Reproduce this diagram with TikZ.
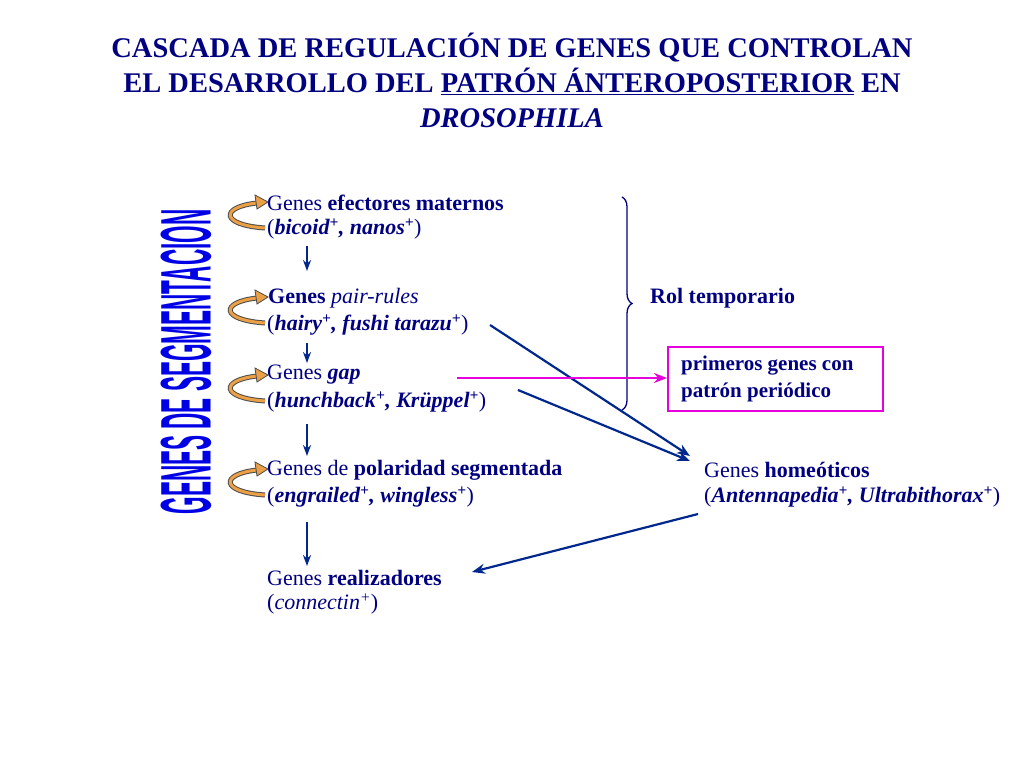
\documentclass[tikz,border=0pt]{standalone}
\usepackage{fontspec}
\setmainfont{Liberation Serif}
\newfontfamily\vfont{Liberation Sans}
\usetikzlibrary{decorations.pathreplacing,arrows.meta}
\definecolor{nb}{RGB}{0,0,128}
\definecolor{ar}{RGB}{0,40,140}
\definecolor{og}{RGB}{235,160,70}
\definecolor{mg}{RGB}{230,0,220}
\begin{document}
\begin{tikzpicture}[x=1pt,y=-1pt,
  tx/.style={anchor=west,text=nb,font=\fontsize{22}{26}\selectfont,inner sep=0pt},
  va/.style={draw=ar,line width=2pt,-{Stealth[length=11pt,width=8pt]}},
  da/.style={draw=ar,line width=2.2pt,-{Stealth[length=13pt,width=10pt]}}]
\useasboundingbox (0,0) rectangle (1024,768);
\node[text=nb,align=center,font=\fontsize{28.5}{35}\selectfont\bfseries] (title) at (512,80)
 {CASCADA DE REGULACIÓN DE GENES QUE CONTROLAN\\EL DESARROLLO DEL \underline{PATRÓN ÁNTEROPOSTERIOR} EN\\\textit{DROSOPHILA}};
\node[rotate=90,text=blue!80!nb,inner sep=0pt] (seg) at (186,362)
 {\resizebox{305pt}{50pt}{\vfont\bfseries GENES DE SEGMENTACION}};
% gene texts
\node[tx] (a1) at (267,203) {Genes \textbf{efectores maternos}};
\node[tx] (a2) at (267,229) {(\textbf{\textit{bicoid\textsuperscript{+}, nanos\textsuperscript{+}}})};
\node[tx] (b1) at (268,298) {\textbf{Genes} \textit{pair-rules}};
\node[tx] (b2) at (267,325) {(\textbf{\textit{hairy\textsuperscript{+}, fushi tarazu\textsuperscript{+}}})};
\node[tx] (c1) at (267,375) {Genes \textbf{\textit{gap}}};
\node[tx] (c2) at (267,402) {(\textbf{\textit{hunchback\textsuperscript{+}, Krüppel\textsuperscript{+}}})};
\node[tx] (d1) at (267,470) {Genes de \textbf{polaridad segmentada}};
\node[tx] (d2) at (267,497) {(\textbf{\textit{engrailed\textsuperscript{+}, wingless\textsuperscript{+}}})};
\node[tx] (e1) at (267,578) {Genes \textbf{realizadores}};
\node[tx] (e2) at (267,604) {(\textit{connectin\textsuperscript{+}})};
\node[tx] (h1) at (704,470) {Genes \textbf{homeóticos}};
\node[tx] (h2) at (704,497) {(\textbf{\textit{Antennapedia\textsuperscript{+}, Ultrabithorax\textsuperscript{+}}})};
\node[tx] (rol) at (650,298) {\textbf{Rol temporario}};
\draw[mg,line width=1.4pt] (668,347) rectangle (883,411);
\node[text=nb,align=left,anchor=west,inner sep=0pt,font=\fontsize{21}{27}\selectfont\bfseries] (box) at (681,379) {primeros genes con\\patrón periódico};
\coordinate (boxw) at (667,378);
% curled arrows
\foreach \y in {215,310,388,482}{
  \draw[black!70,line width=5pt] (265,\y+13) .. controls (220,\y+10) and (220,\y-8) .. (257,\y-12);
  \draw[og,line width=3pt] (265,\y+13) .. controls (220,\y+10) and (220,\y-8) .. (257,\y-12);
  \fill[og,draw=black!70,line width=0.8pt] (268,\y-13) -- (255,\y-20) -- (257,\y-6) -- cycle;
}
% vertical arrows
\coordinate (v1a) at (307,246); \coordinate (v1b) at (307,271);
\coordinate (v2a) at (307,343); \coordinate (v2b) at (307,363);
\coordinate (v3a) at (307,424); \coordinate (v3b) at (307,456);
\coordinate (v4a) at (307,522); \coordinate (v4b) at (307,566);
\draw[va] (v1a) -- (v1b); \draw[va] (v2a) -- (v2b); \draw[va] (v3a) -- (v3b); \draw[va] (v4a) -- (v4b);
% brace
\coordinate (br1) at (622,197); \coordinate (br2) at (622,410);
\draw[nb,line width=1.3pt,decorate,decoration={brace,amplitude=10pt}] (br1) -- (br2);
% diagonal arrows
\coordinate (p1) at (490,325); \coordinate (p2) at (518,390); \coordinate (p3) at (698,514);
\coordinate (hh) at (690,456); \coordinate (hh2) at (690,461); \coordinate (rr) at (472,572);
\draw[da] (p1) -- (hh); \draw[da] (p2) -- (hh2); \draw[da] (p3) -- (rr);
\coordinate (m1) at (457,378);
\draw[mg,line width=2.2pt,-{Stealth[length=13pt,width=10pt]}] (m1) -- (boxw);
\end{tikzpicture}
\end{document}
